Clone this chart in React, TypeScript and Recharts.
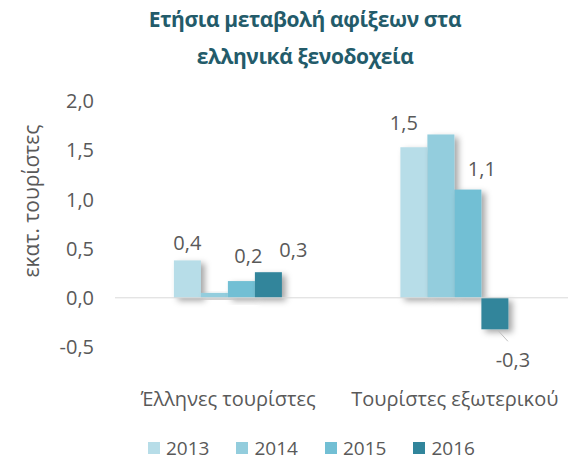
import React from 'react';
import { BarChart, Bar, XAxis, YAxis, ReferenceLine, LabelList } from 'recharts';

const categories = ['Έλληνες τουρίστες', 'Τουρίστες εξωτερικού'];
const years = ['2013', '2014', '2015', '2016'];
const values2013 = [0.38, 1.53];
const values2014 = [0.05, 1.66];
const values2015 = [0.17, 1.1];
const values2016 = [0.26, -0.32];
const yTicks = [-0.5, 0, 0.5, 1, 1.5, 2];

const colors = ['#b7dde8', '#93cddd', '#72bfd4', '#31859b'];
const grey = '#595959';
const font = '"Open Sans", sans-serif';

const chartData = categories.map((name, i) => ({
  name,
  y2013: values2013[i],
  y2014: values2014[i],
  y2015: values2015[i],
  y2016: values2016[i],
}));

// Excel placed the data labels by hand; offsets per series / category
const labelOffsets: Record<string, ({ dx: number; dy: number } | null)[]> = {
  y2013: [{ dx: 0, dy: -10 }, { dx: -10, dy: -17 }],
  y2014: [null, null],
  y2015: [{ dx: 7, dy: -18 }, { dx: 14, dy: -14 }],
  y2016: [{ dx: 25, dy: -15 }, { dx: 18, dy: 38 }],
};

const fmt = (v: number) => v.toFixed(1).replace('.', ',');

const makeLabel = (key: string) => (props: any) => {
  const { x, y, width, height, value, index } = props;
  const off = labelOffsets[key][index];
  if (!off) return null;
  const cx = x + width / 2;
  if (value < 0) {
    const bottom = Math.max(y, y + height);
    return (
      <g>
        <line x1={cx + 3} y1={bottom + 1} x2={cx + 13} y2={bottom + 12} stroke="#bfbfbf" strokeWidth={1} />
        <text x={cx + off.dx} y={bottom + off.dy} textAnchor="middle" fontSize={20} fill={grey} fontFamily={font}>
          {fmt(value)}
        </text>
      </g>
    );
  }
  return (
    <text x={cx + off.dx} y={Math.min(y, y + height) + off.dy} textAnchor="middle" fontSize={20} fill={grey} fontFamily={font}>
      {fmt(value)}
    </text>
  );
};

const ShadowBar = (props: any) => {
  const { x, y, width, height, fill } = props;
  const top = height < 0 ? y + height : y;
  return <rect x={x} y={top} width={width} height={Math.abs(height)} fill={fill} filter="url(#barShadow)" />;
};

const CategoryTick = ({ x, y, payload }: any) => (
  <text x={x} y={y + 51} textAnchor="middle" fontSize={20} fill={grey} fontFamily={font}>
    {payload.value}
  </text>
);

export default function App() {
  const keys = ['y2013', 'y2014', 'y2015', 'y2016'];
  return (
    <div style={{ position: 'absolute', left: 0, top: 0, width: 575, height: 462, background: '#fff', fontFamily: font }}>
      <svg width={0} height={0} style={{ position: 'absolute' }}>
        <defs>
          <filter id="barShadow" x="-30%" y="-30%" width="170%" height="170%">
            <feDropShadow dx={4} dy={3} stdDeviation={3} floodColor="#000" floodOpacity={0.35} />
          </filter>
        </defs>
      </svg>

      <div
        style={{
          position: 'absolute',
          left: 60,
          width: 490,
          top: 1,
          textAlign: 'center',
          fontSize: 21,
          fontWeight: 700,
          letterSpacing: -0.4,
          lineHeight: '37px',
          color: '#235b6a',
        }}
      >
        Ετήσια μεταβολή αφίξεων στα
        <br />
        ελληνικά ξενοδοχεία
      </div>

      <div
        style={{
          position: 'absolute',
          left: 31,
          top: 201,
          transform: 'translate(-50%, -50%) rotate(-90deg)',
          whiteSpace: 'nowrap',
          fontSize: 21,
          color: grey,
        }}
      >
        εκατ. τουρίστες
      </div>

      <BarChart
        width={575}
        height={462}
        data={chartData}
        margin={{ top: 101, right: 7, bottom: 85, left: 0 }}
        barCategoryGap="26%"
        barGap={0}
        style={{ position: 'absolute', left: 0, top: 0 }}
      >
        <XAxis dataKey="name" height={30} axisLine={false} tickLine={false} tick={<CategoryTick />} interval={0} />
        <YAxis
          width={115}
          domain={[-0.5, 2]}
          ticks={yTicks}
          axisLine={false}
          tickLine={false}
          tickSize={0}
          tickMargin={21}
          tickFormatter={fmt}
          tick={{ fontSize: 20, fill: grey, fontFamily: font }}
        />
        <ReferenceLine y={0} stroke="#d9d9d9" strokeWidth={1} />
        {keys.map((k, i) => (
          <Bar key={k} dataKey={k} fill={colors[i]} shape={<ShadowBar />} isAnimationActive={false}>
            <LabelList dataKey={k} content={makeLabel(k)} />
          </Bar>
        ))}
      </BarChart>

      <div
        style={{
          position: 'absolute',
          left: 148,
          top: 435,
          display: 'flex',
          alignItems: 'center',
          fontSize: 19,
          color: grey,
        }}
      >
        {years.map((yr, i) => (
          <div key={yr} style={{ display: 'flex', alignItems: 'center', marginRight: 27 }}>
            <div style={{ width: 12, height: 12, background: colors[i], marginRight: 6 }} />
            <span>{yr}</span>
          </div>
        ))}
      </div>
    </div>
  );
}
